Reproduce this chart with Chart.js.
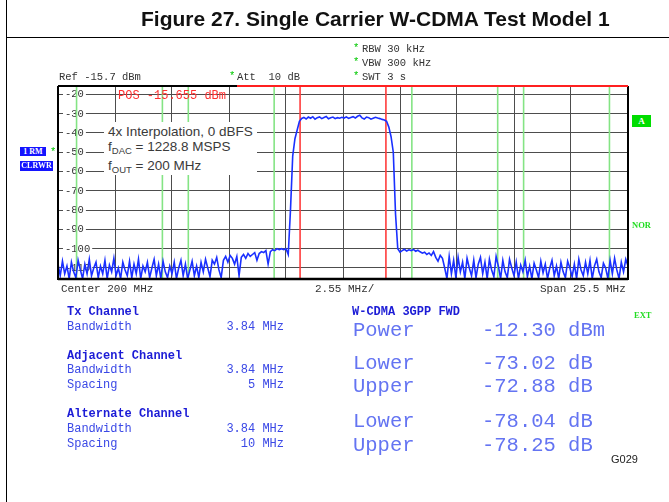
<!DOCTYPE html>
<html>
<head>
<meta charset="utf-8">
<script src="https://cdn.jsdelivr.net/npm/chart.js@4.4.1/dist/chart.umd.min.js"></script>
<style>
  html, body { margin: 0; padding: 0; background: #fff; }
  #wrap { position: relative; width: 669px; height: 502px; overflow: hidden; }
  #wrap canvas { position: absolute; left: 0; top: 0; }
  .t { position: absolute; white-space: pre; line-height: 1; }
  .mono { font-family: "Liberation Mono", "DejaVu Sans Mono", monospace; font-size: 10.5px; color: #333; }
  .ax { font-size: 11px; }
  .star { color: #00c800; }
  .tbl { font-family: "Liberation Mono", monospace; font-size: 12px; color: #3a48e6; }
  .tbl b { color: #1c1cd6; }
  .big { font-family: "Liberation Mono", monospace; font-size: 20.5px; color: #6474f2; }
  .box { position: absolute; background: #1414ff; color: #fff; font: bold 8px "Liberation Serif", serif; text-align: center; }
  .grn { font: bold 8.5px "Liberation Serif", serif; color: #22dd22; }
  .note { font-family: "Liberation Sans", Arial, sans-serif; font-size: 13.5px; color: #3a3a3a; }
  .note sub { font-size: 9.5px; vertical-align: -3px; line-height: 0; }
</style>
</head>
<body>
<div id="wrap">
  <canvas id="c" width="669" height="502"></canvas>

  <div style="position:absolute;left:6px;top:0;width:1px;height:502px;background:#000"></div>
  <div style="position:absolute;left:6px;top:37px;width:663px;height:1px;background:#000"></div>
  <div class="t" style="left:141px;top:6.5px;font:bold 21px 'Liberation Sans',Arial,sans-serif;color:#111">Figure 27. Single Carrier W-CDMA Test Model 1</div>

  <div class="t mono star" style="left:353px;top:43px">*</div>
  <div class="t mono" style="left:362px;top:43.5px">RBW 30 kHz</div>
  <div class="t mono star" style="left:353px;top:57px">*</div>
  <div class="t mono" style="left:362px;top:57.5px">VBW 300 kHz</div>
  <div class="t mono star" style="left:353px;top:71px">*</div>
  <div class="t mono" style="left:362px;top:71.5px">SWT 3 s</div>
  <div class="t mono" style="left:59px;top:71.5px">Ref -15.7 dBm</div>
  <div class="t mono star" style="left:229px;top:71px">*</div>
  <div class="t mono" style="left:237px;top:71.5px">Att  10 dB</div>

  <div class="box" style="left:20px;top:146.5px;width:26px;height:9px;line-height:9px">1 RM</div>
  <div class="t mono star" style="left:50px;top:147px">*</div>
  <div class="box" style="left:20px;top:161px;width:33px;height:10px;line-height:10px">CLRWR</div>

  <div class="box" style="left:632px;top:115px;width:19px;height:12px;line-height:12px;background:#00dd00;font-size:9px">A</div>
  <div class="t grn" style="left:632px;top:220px">NOR</div>
  <div class="t grn" style="left:634px;top:310px">EXT</div>

  <div class="t mono" style="left:118px;top:89.5px;font-size:12px;color:#ff3030">POS -15.655 dBm</div>

  <div style="position:absolute;left:104px;top:122px;width:153px;height:53px;background:#fff"></div>
  <div class="t note" style="left:108px;top:125px">4x Interpolation, 0 dBFS</div>
  <div class="t note" style="left:108px;top:140px">f<sub>DAC</sub> = 1228.8 MSPS</div>
  <div class="t note" style="left:108px;top:159px">f<sub>OUT</sub> = 200 MHz</div>

  <div class="t mono ax" style="left:61px;top:284px">Center 200 MHz</div>
  <div class="t mono ax" style="left:315px;top:284px">2.55 MHz/</div>
  <div class="t mono ax" style="left:540px;top:284px">Span 25.5 MHz</div>

  <div class="t tbl" style="left:67px;top:305.5px"><b>Tx Channel</b></div>
  <div class="t tbl" style="left:67px;top:320.5px">Bandwidth</div>
  <div class="t tbl" style="right:385px;top:320.5px">3.84 MHz</div>
  <div class="t tbl" style="left:67px;top:349.5px"><b>Adjacent Channel</b></div>
  <div class="t tbl" style="left:67px;top:363.5px">Bandwidth</div>
  <div class="t tbl" style="right:385px;top:363.5px">3.84 MHz</div>
  <div class="t tbl" style="left:67px;top:378.5px">Spacing</div>
  <div class="t tbl" style="right:385px;top:378.5px">5 MHz</div>
  <div class="t tbl" style="left:67px;top:407.5px"><b>Alternate Channel</b></div>
  <div class="t tbl" style="left:67px;top:422.5px">Bandwidth</div>
  <div class="t tbl" style="right:385px;top:422.5px">3.84 MHz</div>
  <div class="t tbl" style="left:67px;top:437.5px">Spacing</div>
  <div class="t tbl" style="right:385px;top:437.5px">10 MHz</div>

  <div class="t tbl" style="left:352px;top:305.5px"><b>W-CDMA 3GPP FWD</b></div>
  <div class="t big" style="left:353px;top:320.5px">Power</div>
  <div class="t big" style="left:482px;top:320.5px">-12.30 dBm</div>
  <div class="t big" style="left:353px;top:353.5px">Lower</div>
  <div class="t big" style="left:482px;top:353.5px">-73.02 dB</div>
  <div class="t big" style="left:353px;top:377px">Upper</div>
  <div class="t big" style="left:482px;top:377px">-72.88 dB</div>
  <div class="t big" style="left:353px;top:411.5px">Lower</div>
  <div class="t big" style="left:482px;top:411.5px">-78.04 dB</div>
  <div class="t big" style="left:353px;top:435.5px">Upper</div>
  <div class="t big" style="left:482px;top:435.5px">-78.25 dB</div>

  <div class="t" style="left:611px;top:453px;font:11px 'Liberation Sans',Arial,sans-serif;color:#222">G029</div>
</div>

<script>
// analyzer settings
const CENTER_MHZ = 200;
const SPAN_MHZ = 25.5;
const REF_DBM = -15.7;
const RANGE_DB = 100;
const X_DIVS = 10;
const Y_TICKS = [-110, -100, -90, -80, -70, -60, -50, -40, -30, -20];

// ACLR channel setup
const TX_BW = 3.84;
const ADJ_SPACING = 5;
const ALT_SPACING = 10;

// sweep trace, dBm, left to right across the span
const TRACE_DBM = [
  -108, -114, -106.5, -113, -109, -115.5, -107, -112, -115, -106,
  -111, -115.5, -108, -113, -105.5, -114, -110, -107, -115, -109,
  -113, -106, -115.5, -108.5, -112, -105, -114, -110, -115.5, -107,
  -111, -114, -106.5, -115, -108, -113, -105.5, -115.5, -109, -112,
  -107, -115, -110, -105.5, -114, -108, -115.5, -106.5, -112, -115,
  -109, -113, -107, -115.5, -110, -106, -114, -108, -115.5, -111,
  -106.5, -114, -109, -115, -107, -112, -105.5, -110, -114.5, -106,
  -108, -104.5, -111, -115, -106, -104, -107, -103.5, -105, -108,
  -104, -114, -104.5, -103, -105, -102.5, -104, -103, -102, -106,
  -102.5, -101.5, -102, -101, -108, -101.5, -100.5, -101, -100, -100.5,
  -100, -100.5, -100, -103, -80, -52, -43, -38.5, -34, -32.5,
  -32, -32.8, -31.8, -32.4, -31.6, -32.9, -32.1, -31.7, -32.6, -32.0,
  -31.5, -32.7, -32.2, -31.8, -32.6, -32.1, -32.4, -31.9, -32.3, -31.7,
  -32.5, -32.0, -31.6, -32.3, -31.4, -30.9, -32.2, -32.8, -31.8, -32.1,
  -32.9, -32.4, -31.9, -32.3, -32.6, -33.0, -33.3, -34, -37, -42,
  -50, -82, -100, -101.8, -101, -100.3, -101.2, -100.6, -101, -100.4,
  -101.3, -100.8, -101.6, -102.3, -101.8, -103, -102.2, -103.5, -101.5, -104.5,
  -106.5, -103.5, -105, -110, -115.5, -104, -113, -106, -115, -104.5,
  -112, -107, -115.5, -105, -110, -114, -106, -115, -108, -104.5,
  -113, -107, -115.5, -105.5, -111, -114.5, -104, -109, -115.5, -106,
  -112, -115, -105.5, -110, -114, -107, -115.5, -108.5, -112, -106,
  -114.5, -109, -115.5, -107.5, -111, -115, -106.5, -112.5, -108, -115.5,
  -110, -106, -114, -109, -115.5, -107, -112, -115, -106.5, -110,
  -114.5, -108, -115.5, -105.5, -111, -114, -107, -113, -106, -115.5,
  -109, -105.5, -112, -115, -107.5, -110, -115.5, -106, -113, -105,
  -111, -115.5, -107, -112, -105.5, -109
];

const F_START = CENTER_MHZ - SPAN_MHZ / 2;
const F_STOP = CENTER_MHZ + SPAN_MHZ / 2;
const STEP = SPAN_MHZ / (TRACE_DBM.length - 1);
const points = TRACE_DBM.map((v, i) => ({ x: F_START + i * STEP, y: v }));
const xGrid = Array.from({ length: X_DIVS + 1 }, (_, k) => F_START + k * SPAN_MHZ / X_DIVS);

const RED = '#ff3c3c';
const GREEN = '#84e484';
const chanEdges = [
  [TX_BW / 2, RED],
  [ADJ_SPACING - TX_BW / 2, GREEN], [ADJ_SPACING + TX_BW / 2, GREEN],
  [ALT_SPACING - TX_BW / 2, GREEN], [ALT_SPACING + TX_BW / 2, GREEN]
];

const spectrumOverlay = {
  id: 'spectrumOverlay',
  beforeDatasetsDraw(chart) {
    const { ctx, chartArea: a, scales: { x, y } } = chart;
    ctx.save();
    // level labels sit inside the grid
    ctx.font = '10.5px "Liberation Mono", monospace';
    ctx.textBaseline = 'middle';
    Y_TICKS.forEach(v => {
      const py = Math.round(y.getPixelForValue(v));
      const s = String(v);
      const w = ctx.measureText(s).width;
      ctx.fillStyle = '#fff';
      ctx.fillRect(a.left + 5, py - 2, w + 4, 4);
      ctx.fillStyle = '#333';
      ctx.fillText(s, a.left + 7, py + 0.5);
    });
    // channel limits
    ctx.lineWidth = 1.6;
    chanEdges.forEach(([off, col]) => {
      [-1, 1].forEach(sg => {
        const px = x.getPixelForValue(CENTER_MHZ + sg * off);
        ctx.strokeStyle = col;
        ctx.beginPath();
        ctx.moveTo(px, a.top);
        ctx.lineTo(px, a.bottom);
        ctx.stroke();
      });
    });
    ctx.restore();
  },
  afterDatasetsDraw(chart) {
    const { ctx, chartArea: a } = chart;
    ctx.save();
    ctx.strokeStyle = '#000';
    ctx.lineWidth = 2;
    ctx.beginPath();
    ctx.moveTo(a.left, a.top);
    ctx.lineTo(a.left, a.bottom);
    ctx.lineTo(a.right, a.bottom);
    ctx.lineTo(a.right, a.top);
    ctx.stroke();
    ctx.lineWidth = 2.5;
    ctx.beginPath();
    ctx.moveTo(a.left, a.bottom);
    ctx.lineTo(a.right, a.bottom);
    ctx.stroke();
    ctx.lineWidth = 2;
    ctx.beginPath();
    ctx.moveTo(a.left, a.top);
    ctx.lineTo(237, a.top);
    ctx.stroke();
    ctx.strokeStyle = '#ff2020';
    ctx.beginPath();
    ctx.moveTo(237, a.top);
    ctx.lineTo(a.right, a.top);
    ctx.stroke();
    ctx.restore();
  }
};

new Chart(document.getElementById('c'), {
  type: 'line',
  data: {
    datasets: [{
      data: points,
      borderColor: '#1a30ff',
      borderWidth: 1.6,
      pointRadius: 0,
      tension: 0
    }]
  },
  options: {
    responsive: false,
    animation: false,
    devicePixelRatio: 1,
    layout: { padding: { left: 58, top: 86, right: 41, bottom: 223 } },
    plugins: { legend: { display: false }, tooltip: { enabled: false } },
    scales: {
      x: {
        type: 'linear', min: F_START, max: F_STOP,
        afterBuildTicks: s => { s.ticks = xGrid.map(v => ({ value: v })); },
        ticks: { display: false },
        grid: { color: '#4d4d4d', drawTicks: false },
        border: { display: false }
      },
      y: {
        min: REF_DBM - RANGE_DB, max: REF_DBM,
        afterBuildTicks: s => { s.ticks = Y_TICKS.map(v => ({ value: v })); },
        ticks: { display: false },
        grid: { color: '#4d4d4d', drawTicks: false },
        border: { display: false }
      }
    }
  },
  plugins: [spectrumOverlay]
});
</script>
</body>
</html>
